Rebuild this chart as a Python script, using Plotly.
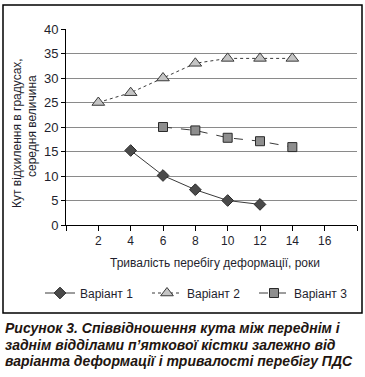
import plotly.graph_objects as go

years1 = [4, 6, 8, 10, 12]
v1 = [15.2, 10.1, 7.2, 5.0, 4.2]
years2 = [2, 4, 6, 8, 10, 12, 14]
v2 = [25, 27, 30, 33, 34, 34, 34]
years3 = [6, 8, 10, 12, 14]
v3 = [20, 19.3, 17.8, 17.1, 15.9]
xticks = [0, 2, 4, 6, 8, 10, 12, 14, 16, 18]
xticktext = ["", "2", "4", "6", "8", "10", "12", "14", "16", ""]
yticks = [0, 5, 10, 15, 20, 25, 30, 35, 40]

FONT = "Liberation Sans, Arial, sans-serif"
TXT = "#1f1f2e"
L, R, T, B = 66, 8, 29, 152
PW = 365 - L - R
PH = 377 - T - B


def px(x):
    return (x - L) / PW


def py(y):
    return (377 - B - y) / PH


fig = go.Figure()
fig.add_trace(go.Scatter(x=years1, y=v1, name="Варіант 1", mode="lines+markers",
                         line=dict(color="#3a3a3a", width=1),
                         marker=dict(symbol="diamond", size=9, color="#4a4a4a",
                                     line=dict(color="#2a2a2a", width=1))))
fig.add_trace(go.Scatter(x=years2, y=v2, name="Варіант 2", mode="lines+markers",
                         line=dict(color="#3a3a3a", width=1, dash="dot"),
                         marker=dict(symbol="triangle-up", size=11, color="#c4c4c4",
                                     line=dict(color="#3a3a3a", width=1))))
fig.add_trace(go.Scatter(x=years3, y=v3, name="Варіант 3", mode="lines+markers",
                         line=dict(color="#3a3a3a", width=1, dash="dash"),
                         marker=dict(symbol="square", size=9, color="#8e8e8e",
                                     line=dict(color="#2a2a2a", width=1))))

fig.update_layout(
    width=365, height=377,
    margin=dict(l=L, r=R, t=T, b=B, autoexpand=False),
    paper_bgcolor="white", plot_bgcolor="white",
    font=dict(family=FONT, size=12, color=TXT),
    showlegend=True,
    legend=dict(orientation="h", xref="paper", yref="paper",
                x=px(40), y=py(293),
                xanchor="left", yanchor="middle", entrywidth=62,
                font=dict(family=FONT, size=12, color=TXT),
                bgcolor="rgba(0,0,0,0)", itemwidth=30),
    xaxis=dict(range=[0, 18], tickvals=xticks, ticktext=xticktext,
               showline=True, linecolor="black", linewidth=1,
               ticks="outside", ticklen=5, tickcolor="black",
               showgrid=False, zeroline=False,
               tickfont=dict(family=FONT, size=12, color=TXT)),
    yaxis=dict(range=[0, 40], tickvals=yticks,
               showline=True, linecolor="black", linewidth=1,
               ticks="outside", ticklen=4, tickcolor="black",
               showgrid=True, gridcolor="#8a8a8a", gridwidth=1,
               zeroline=False,
               tickfont=dict(family=FONT, size=13, color=TXT)),
)

# border frame around chart
fig.add_shape(type="rect", xref="paper", yref="paper",
              x0=px(3), x1=px(362), y0=py(313), y1=py(5),
              line=dict(color="black", width=1.5), fillcolor="rgba(0,0,0,0)")

# y axis title (two lines)
fig.add_annotation(text="Кут відхилення в градусах,", xref="paper", yref="paper",
                   x=px(17), y=py(133), textangle=-90, showarrow=False,
                   font=dict(family=FONT, size=12, color=TXT), xanchor="center", yanchor="middle")
fig.add_annotation(text="середня величина", xref="paper", yref="paper",
                   x=px(32), y=py(126), textangle=-90, showarrow=False,
                   font=dict(family=FONT, size=12, color=TXT), xanchor="center", yanchor="middle")
# x axis title
fig.add_annotation(text="Тривалість перебігу деформації, роки", xref="paper", yref="paper",
                   x=px(215), y=py(263), showarrow=False,
                   font=dict(family=FONT, size=12, color=TXT), xanchor="center", yanchor="middle")

# caption
caption = ["Рисунок 3. Співвідношення кута між переднім і",
           "заднім відділами п’яткової кістки залежно від",
           "варіанта деформації і тривалості перебігу ПДС"]
for i, line in enumerate(caption):
    fig.add_annotation(text="<b><i>" + line + "</i></b>", xref="paper", yref="paper",
                       x=px(3), y=py(328 + i * 16.5), showarrow=False,
                       xanchor="left", yanchor="middle",
                       font=dict(family=FONT, size=14, color="#221510"))

fig.write_html("out.html", config={"displayModeBar": False},
               post_script="document.body.style.margin='0';")
